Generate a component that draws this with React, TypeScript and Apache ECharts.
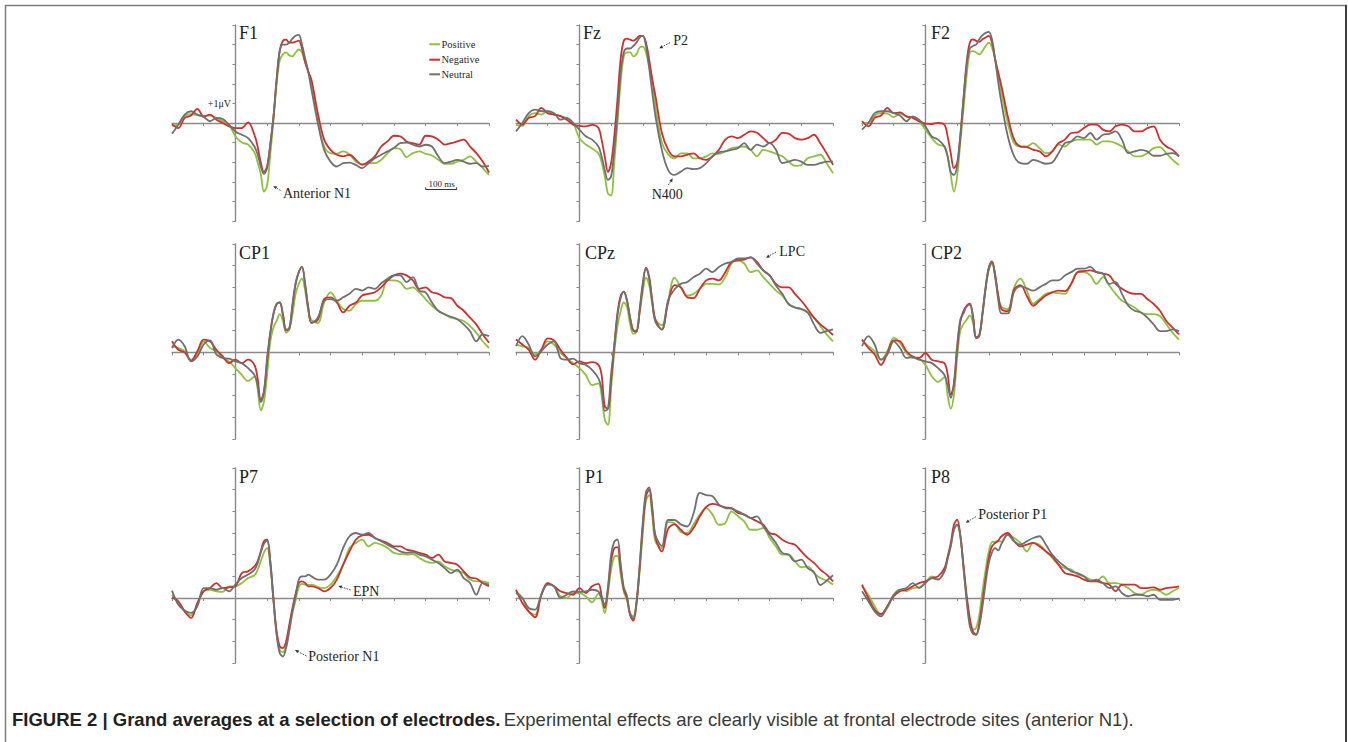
import React, { useEffect, useRef } from "react";
import * as echarts from "echarts";

// time axis in ms (denser sampling around the fast early components)
const TIMES_MS = [
  -200, -180, -160, -140, -120, -100, -80, -60, -40, -20,
  0, 20, 40, 60, 70, 80, 90, 100, 110, 120,
  130, 140, 150, 160, 170, 180, 190, 200, 210, 220,
  230, 240, 260, 280, 300, 320, 340, 360, 380, 400,
  420, 440, 460, 480, 500, 520, 540, 560, 580, 600,
  620, 640, 660, 680, 700, 720, 740, 760, 780, 800,
];

const F1_POS = [-0.14,-0.05,0.35,0.45,0.4,0.34,0.38,0.25,0.1,-0.1, -0.68,-1.0,-1.1,-1.5,-2.0,-2.6,-3.5,-3.2,-1.6,0.1, 2.0,3.2,3.5,3.6,3.45,3.4,3.6,3.75,3.6,3.1, 2.65,1.97,0.1,-1.2,-1.54,-1.57,-1.45,-1.6,-1.97,-2.1, -2.05,-2.05,-1.88,-1.54,-1.28,-1.33,-1.74,-1.54,-1.45,-1.57, -1.66,-1.88,-2.08,-2.08,-1.97,-1.88,-1.7,-1.97,-2.3,-2.65];
const F1_NEG = [-0.08,-0.26,0.26,0.38,0.72,0.34,0.43,0.17,0,-0.17, -0.26,-0.26,0.03,-0.6,-1.2,-2.0,-2.5,-2.2,-1.1,0.3, 2.2,3.7,4.2,4.25,4.1,4.1,4.15,4.2,3.8,3.1, 2.6,2.2,0.5,-0.85,-1.37,-1.62,-1.7,-1.62,-1.88,-2.14, -1.97,-1.7,-1.2,-0.94,-0.65,-0.68,-0.94,-1.03,-1.1,-0.65, -0.68,-0.85,-1.1,-1.03,-0.94,-0.85,-1.2,-1.54,-1.97,-2.53];
const F1_NEU = [-0.55,-0.09,0.43,0.6,0.43,0.31,0.09,0.26,0.2,-0.09, -0.43,-0.6,-0.77,-1.2,-1.6,-2.2,-2.6,-2.3,-1.1,0.3, 2.2,3.7,4.0,4.0,4.1,4.3,4.45,4.5,4.0,3.3, 2.6,1.7,0.0,-1.37,-1.97,-2.22,-2.05,-2.02,-2.14,-2.3, -2.05,-1.8,-1.62,-1.45,-1.28,-1.03,-1.0,-1.11,-1.2,-1.11, -1.2,-1.7,-2.05,-1.97,-1.88,-1.97,-2.08,-2.05,-2.22,-2.19];

const FZ_POS = [-0.1,-0.15,0.35,0.5,0.43,0.6,0.43,0.35,0.26,0, -0.77,-1.1,-1.3,-1.55,-2.0,-2.7,-3.6,-3.7,-2.0,0, 2.05,3.4,3.6,3.6,3.4,3.5,3.85,3.9,3.6,2.9, 2.2,0.85,-1.0,-1.6,-1.8,-1.55,-1.55,-1.8,-1.8,-1.7, -1.55,-1.57,-1.45,-1.28,-1.23,-1.2,-1.37,-1.7,-1.37,-1.45, -1.57,-1.7,-1.97,-2.19,-2.14,-1.8,-1.7,-1.62,-2.05,-2.56];
const FZ_NEG = [0.17,-0.08,0.26,0.35,0.77,0.5,0.43,0.35,0.17,-0.08, -0.14,-0.17,-0.1,-0.26,-0.85,-1.7,-2.5,-2.05,-0.68,1.2, 3.25,4.19,4.3,4.25,4.2,4.3,4.45,4.45,4.1,3.25, 2.2,1.37,-0.5,-1.37,-1.7,-1.7,-1.62,-1.55,-1.8,-1.88, -1.7,-1.37,-0.85,-0.68,-0.77,-0.6,-0.43,-0.5,-0.77,-1.03, -0.85,-0.5,-0.54,-0.77,-0.85,-0.77,-0.6,-1.03,-1.55,-2.14];
const FZ_NEU = [-0.43,0,0.5,0.68,0.6,0.6,0.5,0.17,0.26,0, -0.34,-0.68,-0.85,-1.2,-1.7,-2.4,-2.9,-2.73,-1.37,0.34, 2.56,3.6,3.8,3.8,3.93,4.1,4.36,4.45,3.93,2.82, 1.54,0.34,-1.37,-2.4,-2.65,-2.48,-2.3,-2.35,-2.3,-2.05, -1.7,-1.5,-1.45,-1.37,-1.28,-1.03,-1.37,-1.1,-1.2,-1.03, -1.37,-2.05,-1.97,-1.88,-1.97,-2.14,-2.14,-2.05,-1.97,-1.97];

const F2_POS = [0,0,0.38,0.5,0.48,0.3,0.48,0.34,0.3,0.09, -0.34,-0.77,-1.1,-1.2,-1.7,-2.65,-3.5,-2.73,-1.03,0.68, 2.4,3.6,3.67,3.6,3.5,3.67,3.93,4.1,3.85,3.25, 2.4,1.54,0,-1.03,-1.2,-1.2,-1.03,-1.28,-1.54,-1.45, -1.1,-1.2,-0.94,-0.85,-0.85,-0.85,-1.1,-0.94,-0.94,-1.03, -1.2,-1.45,-1.7,-1.7,-1.54,-1.28,-1.23,-1.54,-1.88,-2.14];
const F2_NEG = [0.1,-0.17,0.26,0.38,0.77,0.5,0.54,0.34,0.26,0.09, -0.03,-0.05,0,-0.09,-0.68,-1.54,-2.3,-2.05,-0.68,1.2, 3.08,4.1,4.27,4.19,4.14,4.27,4.36,4.45,4.1,3.25, 2.56,1.88,0.34,-0.85,-1.2,-1.23,-1.37,-1.45,-1.7,-1.45, -1.03,-0.85,-0.51,-0.48,-0.26,-0.08,-0.08,-0.34,-0.43,-0.17, -0.08,-0.17,-0.43,-0.43,-0.26,-0.17,-0.85,-1.2,-1.37,-1.7];
const F2_NEU = [-0.34,0,0.5,0.6,0.6,0.5,0.38,0.09,0.34,0.17, -0.17,-0.68,-0.85,-1.2,-1.7,-2.5,-2.65,-2.2,-0.68,1.2, 2.9,3.8,3.93,4.0,4.27,4.48,4.6,4.65,4.27,3.25, 2.05,1.03,-0.68,-1.7,-2.05,-2.08,-1.88,-1.97,-2.08,-2.02, -1.54,-1.03,-0.94,-0.68,-0.77,-0.51,-0.85,-0.6,-0.55,-0.43, -0.85,-1.54,-1.45,-1.37,-1.45,-1.67,-1.67,-1.57,-1.54,-1.7];

const CP1_POS = [0.28,0.2,0.05,-0.34,-0.1,0.5,0.2,0.05,-0.26,-0.42, -0.73,-1.04,-1.33,-1.12,-1.67,-2.68,-2.29,-1.04,0.51,1.14, 1.45,1.76,1.45,0.9,1.06,1.76,2.7,3.16,3.4,2.85, 1.92,1.5,1.35,2.3,2.77,2.38,2.0,1.92,2.23,2.38, 2.38,2.38,2.62,3.32,3.32,3.24,2.93,3.0,2.77,2.46, 2.15,1.92,1.76,1.6,1.53,1.45,1.21,0.9,0.51,0.2];
const CP1_NEG = [0.51,0.12,0.0,-0.39,0.05,0.59,0.51,0.12,-0.19,-0.5, -0.34,-0.5,-0.34,-0.58,-1.2,-2.2,-1.82,-0.42,0.9,1.76, 2.23,2.3,1.76,1.06,1.1,2.15,3.16,3.7,3.94,3.16, 2.07,1.37,1.5,2.46,2.54,2.3,1.84,2.15,2.3,2.62, 2.7,2.77,3.0,3.32,3.55,3.63,3.55,3.32,2.93,3.0, 2.77,2.7,2.54,2.5,2.15,1.92,1.6,1.29,0.83,0.44];
const CP1_NEU = [0.2,0.59,0.28,-0.42,-0.19,0.36,0.55,-0.1,-0.26,-0.29, -0.42,-0.5,-0.73,-1.04,-1.51,-2.3,-1.82,-0.26,0.9,1.8, 2.23,2.3,1.7,1.0,1.1,2.2,3.2,3.7,3.94,3.1, 2.0,1.35,1.6,2.38,2.46,2.38,2.54,2.7,2.93,2.85, 3.0,2.93,3.19,3.4,3.55,3.55,3.24,3.47,2.85,2.77, 2.3,1.92,1.76,1.64,1.53,1.29,0.98,0.51,0.83,0.75];

const CPZ_POS = [0.36,0.28,0.2,-0.1,0.12,0.51,0.36,-0.03,-0.26,-0.5, -0.73,-1.04,-1.51,-1.43,-1.98,-3.1,-3.35,-1.67,0.0,1.2, 1.9,2.3,2.1,1.3,0.85,0.95,1.8,2.8,3.45,3.1, 2.2,1.5,1.25,2.4,3.45,3.0,2.62,2.7,2.93,3.16, 3.16,3.13,3.47,4.1,4.25,4.1,3.7,3.78,3.47,3.16, 2.85,2.62,2.23,2.07,2.0,1.84,1.6,1.21,0.83,0.51];
const CPZ_NEG = [0.59,0.36,0.12,-0.34,0.12,0.64,0.55,0.12,-0.26,-0.55, -0.42,-0.5,-0.45,-0.58,-1.04,-2.5,-2.6,-1.3,0.3,1.8, 2.6,2.8,2.4,1.6,1.0,0.95,1.9,3.1,3.9,3.5, 2.4,1.5,1.05,2.3,3.1,3.0,2.54,2.5,2.93,3.32, 3.4,3.32,3.7,4.17,4.25,4.28,4.38,4.17,3.78,3.55, 3.16,3.0,3.0,2.7,2.38,2.0,1.6,1.29,1.06,0.8];
const CPZ_NEU = [0.28,0.75,0.36,-0.19,0.05,0.36,0.51,-0.26,-0.34,-0.29, -0.5,-0.58,-0.81,-1.2,-1.67,-2.7,-2.6,-1.0,0.3,1.7, 2.5,2.8,2.4,1.6,1.0,1.0,2.0,3.2,3.9,3.4, 2.3,1.4,1.05,2.4,2.9,3.16,3.24,3.47,3.63,3.86, 3.7,3.94,4.1,4.17,4.33,4.33,4.38,4.1,3.78,3.55, 3.08,2.7,2.23,2.07,2.0,1.84,1.29,0.9,0.98,1.06];

const CP2_POS = [0.55,0.28,0.05,-0.34,0.05,0.67,0.44,-0.03,-0.26,-0.29, -0.58,-1.1,-1.36,-1.15,-1.98,-2.6,-1.98,-0.26,1.0,1.3, 1.5,1.7,1.4,0.67,0.75,1.7,2.9,3.8,4.1,3.5, 2.6,2.1,2.0,3.0,3.4,2.85,2.25,2.46,2.7,2.77, 2.73,2.7,3.16,3.7,3.7,3.55,3.16,3.47,3.08,2.7, 2.38,2.23,2.07,1.84,1.76,1.76,1.68,1.29,0.9,0.59];
const CP2_NEG = [0.59,0.2,-0.1,-0.58,-0.03,0.55,0.51,0.05,-0.19,-0.26, -0.03,-0.34,-0.42,-0.5,-1.0,-1.95,-1.5,0.1,1.4,1.9, 2.15,2.25,1.7,0.7,0.8,1.8,3.0,3.9,4.2,3.6, 2.6,2.0,1.9,2.9,3.1,2.6,2.15,2.38,2.62,2.77, 2.85,2.82,3.16,3.7,3.75,3.78,3.7,3.63,3.55,3.16, 2.93,2.77,2.7,2.7,2.46,2.23,1.92,1.45,1.14,0.83];
const CP2_NEU = [0.28,0.75,0.36,-0.34,-0.1,0.51,0.2,-0.26,-0.23,-0.34, -0.42,-0.5,-0.73,-1.04,-1.51,-2.1,-1.4,0.3,1.5,1.8, 2.1,2.2,1.6,0.65,0.75,1.8,3.0,3.9,4.2,3.5, 2.4,1.8,1.8,2.8,3.05,2.95,2.85,3.0,3.16,3.32, 3.32,3.55,3.7,3.86,3.86,3.94,3.7,3.63,3.16,3.24, 2.7,2.15,1.92,1.84,1.6,1.29,0.98,0.98,1.06,0.98];

const P7_POS = [0.15,-0.23,-0.62,-0.8,-0.31,0.31,0.38,0.31,0.28,0.54, 0.54,0.69,0.92,1.05,1.3,1.7,2.1,2.3,1.5,-0.1, -1.6,-2.4,-2.5,-2.2,-1.5,-0.7,-0.1,0.5,0.65,0.62, 0.6,0.62,0.5,0.46,0.62,1.0,1.54,2.31,2.54,2.69, 2.38,2.54,2.46,2.31,2.08,2.03,2.0,2.03,1.85,1.69, 1.62,1.69,1.46,1.31,1.23,1.15,0.85,0.77,0.77,0.69];
const P7_NEG = [0.03,-0.15,-0.62,-0.92,-0.23,0.31,0.46,0.69,0.46,0.49, 0.54,1.15,1.23,1.46,1.69,2.15,2.62,2.69,1.69,0.0, -1.54,-2.23,-2.31,-2.0,-1.23,-0.46,0.2,0.69,0.77,0.69, 0.54,0.54,0.46,0.31,0.46,0.85,1.54,2.15,2.69,2.89, 2.92,2.77,2.65,2.54,2.38,2.38,2.23,2.18,2.08,2.0, 1.85,2.0,1.69,1.62,1.54,1.23,0.95,0.9,0.69,0.54];
const P7_NEU = [0.34,-0.31,-0.58,-0.69,-0.38,0.46,0.46,0.38,0.46,0.31, 0.62,0.92,1.08,1.3,1.6,2.1,2.5,2.65,1.7,-0.1, -1.7,-2.55,-2.7,-2.3,-1.5,-0.6,0.1,0.85,1.0,1.0, 1.08,1.0,0.85,0.85,1.08,1.54,2.31,2.85,3.0,2.92, 3.0,2.77,2.62,2.46,2.31,2.15,2.08,2.12,2.0,1.92, 1.77,1.62,1.38,1.15,1.31,0.92,0.69,0.15,0.69,0.62];

const P1_POS = [0.31,0.0,-0.62,-0.77,0.15,0.69,0.54,0.08,0.0,0.23, 0.23,0.08,-0.2,0.2,-0.1,-0.7,0.2,1.3,1.9,1.95, 1.1,0.3,-0.1,-0.7,-0.85,-0.2,1.2,3.0,4.5,4.75, 3.8,2.6,2.3,3.5,3.45,3.05,3.0,3.4,3.85,4.15, 3.85,3.38,3.46,4.0,3.77,3.54,3.15,3.15,3.23,2.77, 2.38,2.0,2.0,1.69,1.42,1.46,1.15,0.92,0.8,0.62];
const P1_NEG = [0.38,-0.23,-0.62,-0.89,0.15,0.69,0.54,0.31,0.23,0.15, 0.46,0.23,0.54,0.65,0.1,-0.46,0.4,1.7,2.3,2.35, 1.4,0.4,0.0,-0.8,-1.05,-0.3,1.4,3.3,4.7,5.0, 4.0,2.8,2.15,3.2,3.4,3.15,2.92,3.23,3.77,4.2, 4.34,4.28,4.18,4.15,3.92,3.85,3.69,3.54,3.38,3.0, 2.92,2.69,2.54,2.46,2.15,1.85,1.62,1.31,1.08,0.77];
const P1_NEU = [0.23,0.0,-0.46,-0.54,0.15,0.62,0.54,0.0,0.15,0.31, 0.28,0.31,0.38,0.3,0.0,-0.3,0.5,2.0,2.6,2.7, 1.6,0.5,0.1,-0.75,-0.95,-0.2,1.5,3.5,4.9,5.1, 4.2,2.9,2.4,3.6,3.6,3.4,3.3,3.9,4.85,4.75, 4.7,4.31,4.15,4.12,4.0,3.85,3.69,3.77,3.31,2.92, 2.54,2.08,2.0,1.69,1.77,1.38,1.2,0.6,0.8,1.05];

const P8_POS = [0.54,0.15,-0.38,-0.77,-0.46,0.15,0.38,0.31,0.46,0.49, 0.69,1.0,0.85,1.23,1.8,2.38,3.15,3.38,2.85,1.46, 0.0,-1.08,-1.46,-1.38,-0.77,0.31,1.31,2.15,2.58,2.6, 2.62,2.6,2.95,2.77,2.54,2.15,2.54,2.46,2.15,1.85, 1.54,1.38,1.31,1.08,1.0,0.85,0.8,1.0,0.69,0.69, 0.62,0.46,0.23,0.15,0.31,0.38,0.31,0.15,0.31,0.46];
const P8_NEG = [0.62,0.0,-0.54,-0.74,-0.38,0.08,0.31,0.38,0.54,0.69, 0.77,0.92,1.0,1.38,1.9,2.54,3.38,3.62,2.92,1.54, 0.15,-0.92,-1.54,-1.69,-1.15,-0.15,0.92,1.85,2.38,2.54, 2.65,2.85,3.0,2.62,2.38,2.46,2.54,2.38,2.15,1.92, 1.54,1.15,1.08,1.0,0.85,0.77,0.77,0.69,0.62,0.31, 0.62,0.62,0.62,0.46,0.46,0.49,0.38,0.46,0.49,0.54];
const P8_NEU = [0.31,-0.15,-0.62,-0.85,-0.38,0.15,0.38,0.46,0.69,0.46, 0.69,0.92,0.85,1.23,1.8,2.4,3.15,3.38,2.9,1.4, -0.1,-1.3,-1.65,-1.7,-1.3,-0.4,0.7,1.6,2.1,2.3, 2.2,2.5,2.92,2.62,2.46,2.62,2.77,2.85,2.46,2.0, 1.69,1.46,1.23,1.15,1.0,0.77,0.85,0.69,0.46,0.54, 0.23,0.08,0.15,0.15,0.08,0.15,-0.08,-0.08,-0.08,-0.03];

const ELECTRODES = ["F1", "Fz", "F2", "CP1", "CPz", "CP2", "P7", "P1", "P8"];
const CONDITIONS = ["Positive", "Negative", "Neutral"];
const PANEL_DATA = [
  [F1_POS, F1_NEG, F1_NEU], [FZ_POS, FZ_NEG, FZ_NEU], [F2_POS, F2_NEG, F2_NEU],
  [CP1_POS, CP1_NEG, CP1_NEU], [CPZ_POS, CPZ_NEG, CPZ_NEU], [CP2_POS, CP2_NEG, CP2_NEU],
  [P7_POS, P7_NEG, P7_NEU], [P1_POS, P1_NEG, P1_NEU], [P8_POS, P8_NEG, P8_NEU],
];
const ROW_Y_MIN = [-5, -4, -3];
const ROW_Y_MAX = [5, 5, 6];
const X_MIN = -200;
const X_MAX = 800;

const COLORS = ["#8cc23f", "#cf2f2f", "#707070"];
const AXIS_COLOR = "#8a8a8a";
const SERIF = '"Liberation Serif", "DejaVu Serif", serif';
const SANS = '"Liberation Sans", Arial, sans-serif';

const GRID_LEFTS = [172, 516, 862];
const GRID_WIDTH = 317;
const ROW_TOPS = [25, 244, 468];
const ROW_HEIGHTS = [196, 195, 195];

function txt(text: string, x: number, y: number, size: number, align = "left", color = "#1e1e1e", family = SERIF, weight: any = "normal") {
  return {
    type: "text",
    silent: true,
    x,
    y,
    style: {
      text,
      fill: color,
      fontSize: size,
      fontFamily: family,
      fontWeight: weight,
      textAlign: align,
      align,
      textVerticalAlign: "middle",
      verticalAlign: "middle",
    },
  };
}

function arrow(hx: number, hy: number, tx: number, ty: number) {
  const dx = hx - tx;
  const dy = hy - ty;
  const len = Math.hypot(dx, dy);
  const ux = dx / len;
  const uy = dy / len;
  const s = 3.6;
  const w = 1.7;
  const bx = hx - ux * s;
  const by = hy - uy * s;
  return [
    {
      type: "line",
      silent: true,
      shape: { x1: tx, y1: ty, x2: bx, y2: by },
      style: { stroke: "#333", lineWidth: 0.9, lineDash: [1.6, 1.2] },
    },
    {
      type: "polygon",
      silent: true,
      shape: { points: [[hx, hy], [bx - uy * w, by + ux * w], [bx + uy * w, by - ux * w]] },
      style: { fill: "#333" },
    },
  ];
}

function buildOption() {
  const grid: any[] = [];
  const xAxis: any[] = [];
  const yAxis: any[] = [];
  const series: any[] = [];

  ELECTRODES.forEach((name, i) => {
    const row = Math.floor(i / 3);
    const col = i % 3;
    grid.push({
      left: GRID_LEFTS[col],
      top: ROW_TOPS[row],
      width: GRID_WIDTH,
      height: ROW_HEIGHTS[row],
      containLabel: false,
    });
    xAxis.push({
      gridIndex: i,
      type: "value",
      min: X_MIN,
      max: X_MAX,
      interval: 100,
      axisLine: { show: true, onZero: true, lineStyle: { color: AXIS_COLOR, width: 1.4 } },
      axisTick: { show: true, length: 3, lineStyle: { color: AXIS_COLOR, width: 1 } },
      axisLabel: { show: false },
      splitLine: { show: false },
    });
    yAxis.push({
      gridIndex: i,
      type: "value",
      min: ROW_Y_MIN[row],
      max: ROW_Y_MAX[row],
      interval: 1,
      axisLine: { show: true, onZero: true, lineStyle: { color: AXIS_COLOR, width: 1.4 } },
      axisTick: { show: true, length: 3, lineStyle: { color: AXIS_COLOR, width: 1 } },
      axisLabel: { show: false },
      splitLine: { show: false },
    });
    PANEL_DATA[i].forEach((vals, k) => {
      series.push({
        name: CONDITIONS[k],
        type: "line",
        xAxisIndex: i,
        yAxisIndex: i,
        data: TIMES_MS.map((t, j) => [t, vals[j]]),
        showSymbol: false,
        smooth: 0.35,
        lineStyle: { color: COLORS[k], width: 1.8 },
        itemStyle: { color: COLORS[k] },
        z: 3 + k,
      });
    });
  });

  const titlePos: [number, number][] = [
    [239, 33], [583, 33], [931, 33],
    [239, 253], [585, 253], [931, 253],
    [239, 477], [585, 477], [931, 477],
  ];

  const graphic: any[] = [
    // frame
    {
      type: "rect",
      silent: true,
      shape: { x: 5.5, y: 5.5, width: 1340.5, height: 770 },
      style: { fill: "none", stroke: "#7d7d7d", lineWidth: 1.5 },
    },
    {
      type: "line",
      silent: true,
      shape: { x1: 1346, y1: 5, x2: 1346, y2: 742 },
      style: { stroke: "#222", lineWidth: 1.5 },
    },
  ];

  ELECTRODES.forEach((name, i) => {
    graphic.push(txt(name, titlePos[i][0], titlePos[i][1], 18));
  });

  // legend (F1 panel)
  CONDITIONS.forEach((c, k) => {
    const y = [44.3, 59.7, 74.3][k];
    graphic.push({
      type: "line",
      silent: true,
      shape: { x1: 429.3, y1: y, x2: 440, y2: y },
      style: { stroke: COLORS[k], lineWidth: 2 },
    });
    graphic.push(txt(c, 441.5, y, 10.5, "left", "#2a2a2a"));
  });

  // +1 µV label and scale bar
  graphic.push(txt("+1\u03bcV", 231, 103.5, 10, "right", "#1e1e1e"));
  graphic.push(txt("100 ms", 441.5, 184, 9, "center", "#1e1e1e"));
  graphic.push({
    type: "polyline",
    silent: true,
    shape: { points: [[425.7, 187.3], [425.7, 189.5], [456.7, 189.5], [456.7, 187.3]] },
    style: { stroke: "#333", lineWidth: 1, fill: "none" },
  });

  // annotations
  const notes: [string, number, number, number, number, number, number][] = [
    ["Anterior N1", 283, 193.3, 273.3, 186, 280.5, 190.5],
    ["P2", 673.3, 40.7, 659.3, 48.3, 670, 42.7],
    ["N400", 651.7, 194.3, 672.7, 178.3, 668.3, 185],
    ["LPC", 779.3, 251.7, 766, 257.7, 776, 252],
    ["EPN", 353, 591, 338.3, 586, 350.7, 590],
    ["Posterior N1", 308.3, 656.7, 295, 650, 306.5, 656],
    ["Posterior P1", 978.3, 514, 965.7, 522.7, 976, 516.7],
  ];
  notes.forEach(([t, x, y, hx, hy, tx, ty]) => {
    graphic.push(txt(t, x, y, 14, "left", "#1e1e1e"));
    arrow(hx, hy, tx, ty).forEach((g) => graphic.push(g));
  });

  // caption
  graphic.push({
    type: "text",
    silent: true,
    x: 12,
    y: 719,
    style: {
      text: "{b|FIGURE 2 | Grand averages at a selection of electrodes.} {r|Experimental effects are clearly visible at frontal electrode sites (anterior N1).}",
      textVerticalAlign: "middle",
      verticalAlign: "middle",
      rich: {
        b: { fontFamily: SANS, fontSize: 18.5, fontWeight: "bold", fill: "#231f20", color: "#231f20" },
        r: { fontFamily: SANS, fontSize: 18.5, fontWeight: "normal", fill: "#3a3a3a", color: "#3a3a3a" },
      },
    },
  });

  return {
    animation: false,
    backgroundColor: "#ffffff",
    grid,
    xAxis,
    yAxis,
    series,
    graphic,
  };
}

export default function App() {
  const ref = useRef<HTMLDivElement>(null);
  useEffect(() => {
    if (!ref.current) return;
    const chart = echarts.init(ref.current, null, { renderer: "svg" });
    chart.setOption(buildOption() as any);
    return () => {
      chart.dispose();
    };
  }, []);
  return (
    <div
      ref={ref}
      style={{ position: "fixed", left: 0, top: 0, width: 1348, height: 742, background: "#fff" }}
    />
  );
}
